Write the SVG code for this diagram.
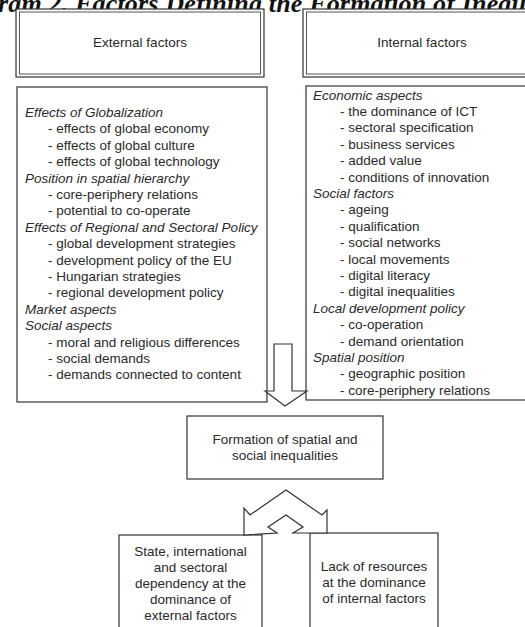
<svg xmlns="http://www.w3.org/2000/svg" width="525" height="627" viewBox="0 0 525 627">
<style>
  .box { fill: #ffffff; stroke: #333333; stroke-width: 1.2; }
  .thin { fill: none; stroke: #555555; stroke-width: 1; }
  .t { font-family: "Liberation Sans", Arial, sans-serif; font-size: 13.5px; fill: #2a2a2a; }
  .h { font-family: "Liberation Sans", Arial, sans-serif; font-size: 13.5px; fill: #2a2a2a; font-style: italic; }
  .c { text-anchor: middle; }
  .title { font-family: "Liberation Serif", "Times New Roman", serif; font-size: 26px; font-weight: bold; font-style: italic; fill: #111111; }
  .arrow { fill: #ffffff; stroke: #333333; stroke-width: 1.2; stroke-linejoin: miter; }
</style>
<rect x="0" y="0" width="525" height="627" fill="#ffffff"/>
<text class="title" x="-2" y="12" textLength="528" lengthAdjust="spacing">ram 2. Factors Defining the Formation of Inequ</text>

<g id="external-factors">
  <rect class="box" x="16" y="9" width="248" height="68"/>
  <rect class="thin" x="19.5" y="12" width="241" height="62"/>
  <text class="t c" x="140" y="46.5">External factors</text>
</g>

<g id="internal-factors">
  <rect class="box" x="303" y="9" width="230" height="68"/>
  <rect class="thin" x="306.5" y="12" width="230" height="62"/>
  <text class="t c" x="422" y="46.5">Internal factors</text>
</g>

<g id="external-list">
  <rect class="box" x="17" y="87" width="250" height="315"/>
  <text class="h" x="25" y="117">Effects of Globalization</text>
  <text class="t" x="48" y="133.4">- effects of global economy</text>
  <text class="t" x="48" y="149.8">- effects of global culture</text>
  <text class="t" x="48" y="166.2">- effects of global technology</text>
  <text class="h" x="25" y="182.6">Position in spatial hierarchy</text>
  <text class="t" x="48" y="199">- core-periphery relations</text>
  <text class="t" x="48" y="215.4">- potential to co-operate</text>
  <text class="h" x="25" y="231.8">Effects of Regional and Sectoral Policy</text>
  <text class="t" x="48" y="248.2">- global development strategies</text>
  <text class="t" x="48" y="264.6">- development policy of the EU</text>
  <text class="t" x="48" y="281">- Hungarian strategies</text>
  <text class="t" x="48" y="297.4">- regional development policy</text>
  <text class="h" x="25" y="313.8">Market aspects</text>
  <text class="h" x="25" y="330.2">Social aspects</text>
  <text class="t" x="48" y="346.6">- moral and religious differences</text>
  <text class="t" x="48" y="363">- social demands</text>
  <text class="t" x="48" y="379.4">- demands connected to content</text>
</g>

<g id="internal-list">
  <rect class="box" x="306" y="86" width="230" height="314"/>
  <text class="h" x="313" y="99.5">Economic aspects</text>
  <text class="t" x="340" y="115.9">- the dominance of ICT</text>
  <text class="t" x="340" y="132.3">- sectoral specification</text>
  <text class="t" x="340" y="148.7">- business services</text>
  <text class="t" x="340" y="165.1">- added value</text>
  <text class="t" x="340" y="181.5">- conditions of innovation</text>
  <text class="h" x="313" y="197.9">Social factors</text>
  <text class="t" x="340" y="214.3">- ageing</text>
  <text class="t" x="340" y="230.7">- qualification</text>
  <text class="t" x="340" y="247.1">- social networks</text>
  <text class="t" x="340" y="263.5">- local movements</text>
  <text class="t" x="340" y="279.9">- digital literacy</text>
  <text class="t" x="340" y="296.3">- digital inequalities</text>
  <text class="h" x="313" y="312.7">Local development policy</text>
  <text class="t" x="340" y="329.1">- co-operation</text>
  <text class="t" x="340" y="345.5">- demand orientation</text>
  <text class="h" x="313" y="361.9">Spatial position</text>
  <text class="t" x="340" y="378.3">- geographic position</text>
  <text class="t" x="340" y="394.7">- core-periphery relations</text>
</g>

<g id="formation">
  <rect class="box" x="187" y="416" width="196" height="63"/>
  <text class="t c" x="285" y="444">Formation of spatial and</text>
  <text class="t c" x="285" y="460">social inequalities</text>
</g>

<g id="external-dominance">
  <rect class="box" x="119" y="535" width="143" height="100"/>
  <text class="t c" x="190.5" y="555.5">State, international</text>
  <text class="t c" x="190.5" y="571.5">and sectoral</text>
  <text class="t c" x="190.5" y="587.5">dependency at the</text>
  <text class="t c" x="190.5" y="603.5">dominance of</text>
  <text class="t c" x="190.5" y="620">external factors</text>
</g>

<g id="internal-dominance">
  <rect class="box" x="310" y="533" width="128" height="102"/>
  <text class="t c" x="374" y="570.5">Lack of resources</text>
  <text class="t c" x="374" y="586.5">at the dominance</text>
  <text class="t c" x="374" y="602.5">of internal factors</text>
</g>

<g id="connectors">
  <polygon class="arrow" points="274,344 292,344 292,391 307,391 285,406 265,391 274,391"/>
  <polygon class="arrow" points="244,535 244,508 250,515 286,490 322,515 327,510 327,533 293,533 303,527 286,515 268,527 277,533"/>
</g>
</svg>
